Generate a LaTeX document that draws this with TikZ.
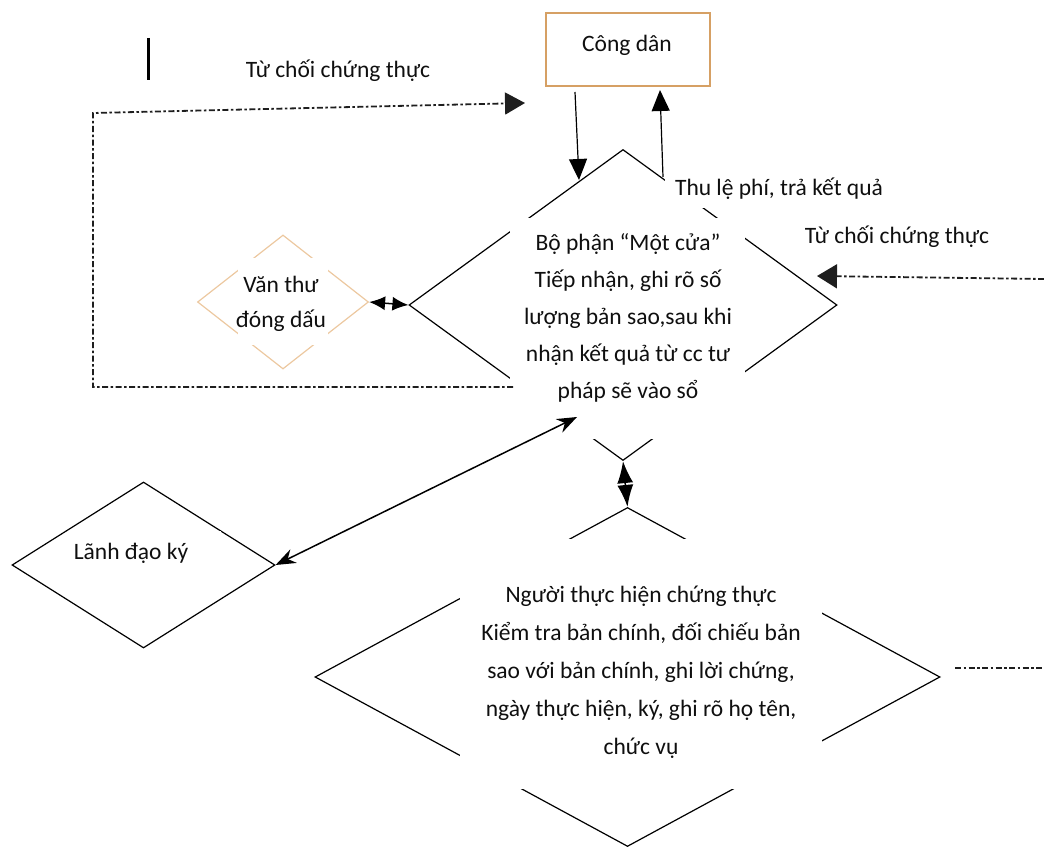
\documentclass[tikz,border=0pt]{standalone}
\usepackage{fontspec}
\setmainfont{Carlito}
\usetikzlibrary{shapes.geometric,arrows.meta}
\definecolor{boxorange}{RGB}{214,160,100}
\definecolor{lightorange}{RGB}{236,200,160}
\definecolor{txtcol}{RGB}{15,15,15}
\definecolor{dashcol}{RGB}{30,30,30}
\tikzset{
  diam/.style={diamond, draw, inner sep=0pt, line width=1.2pt, line join=miter},
  occl/.style={fill=white, draw=none, inner sep=0pt},
  lbl/.style={text=txtcol, align=center, inner sep=0pt, font=\fontsize{23.5pt}{37pt}\selectfont},
  conn/.style={line width=1.2pt},
  dashdot/.style={line width=1.8pt, draw=dashcol, dash pattern=on 6pt off 2.5pt on 2.5pt off 2.5pt},
  bighead/.style={-{Triangle[length=21pt,width=18pt]}},
}
\begin{document}
\begin{tikzpicture}[x=1pt,y=-1pt]
\useasboundingbox (0,0) rectangle (1044,848);

% diamonds
\node[diam, minimum width=428pt, minimum height=311pt] (motcua) at (623,305) {};
\node[diam, draw=lightorange, minimum width=171pt, minimum height=134pt] (vanthu) at (283,302) {};
\node[diam, minimum width=263pt, minimum height=166pt] (lanhdao) at (143.5,565) {};
\node[diam, minimum width=625pt, minimum height=339pt] (nguoith) at (627.5,677) {};

% citizen box
\node[draw=boxorange, fill=white, line width=1.2pt, minimum width=164pt, minimum height=73pt, inner sep=0pt] (congdan) at (628,49.5) {};
\node[lbl, anchor=base] (congdantxt) at (627,52) {Công dân};

% white backgrounds behind the texts
\node[occl, minimum width=235pt, minimum height=221pt] (mcbg) at (627.5,328.5) {};
\node[occl, minimum width=90pt, minimum height=87pt] (vtbg) at (283,301.5) {};
\node[occl, minimum width=146pt, minimum height=47pt] (ldbg) at (148,554.5) {};
\node[occl, minimum width=362pt, minimum height=250pt] (ntbg) at (641,664) {};
\node[occl, minimum width=225pt, minimum height=40pt] (thubg) at (777.5,188) {};

% texts
\node[lbl, font=\fontsize{23.5pt}{37pt}\selectfont] (motcuatxt) at (628,318)
  {Bộ phận “Một cửa”\\Tiếp nhận, ghi rõ số\\lượng bản sao,sau khi\\nhận kết quả từ cc tư\\pháp sẽ vào sổ};
\node[lbl, font=\fontsize{23.5pt}{35pt}\selectfont] (vanthutxt) at (281,303.5) {Văn thư\\đóng dấu};
\node[lbl, anchor=base] (lanhdaotxt) at (131,559) {Lãnh đạo ký};
\node[lbl, font=\fontsize{23.5pt}{38pt}\selectfont] (nguoithtxt) at (641,672.5)
  {Người thực hiện chứng thực\\Kiểm tra bản chính, đối chiếu bản\\sao với bản chính, ghi lời chứng,\\ngày thực hiện, ký, ghi rõ họ tên,\\chức vụ};
\node[lbl, anchor=base] (thutxt) at (779,195) {Thu lệ phí, trả kết quả};
\node[lbl, anchor=base] (tuchoi1) at (338,78) {Từ chối chứng thực};
\node[lbl, anchor=base] (tuchoi2) at (897,243) {Từ chối chứng thực};

% stray bar
\draw[line width=3pt] (148,38) -- (148,80);

% named connector ends
\coordinate (cdDownS) at (575,92);
\coordinate (cdDownE) at (579,180);
\coordinate (cdUpS) at (663,177);
\coordinate (cdUpE) at (660,90);
\coordinate (rejLs) at (513,387);
\coordinate (rejLa) at (93,387);
\coordinate (rejLb) at (93,113);
\coordinate (rejLe) at (525,103);
\coordinate (rejRs) at (1044,279);
\coordinate (rejRe) at (817,276);
\coordinate (mcLd) at (577,417);
\coordinate (ntOut) at (955,668);
\coordinate (ntOutE) at (1044,668);

% connectors
\draw[conn, bighead] (cdDownS) -- (cdDownE);
\draw[conn, bighead] (cdUpS) -- (cdUpE);
\draw[dashdot, -{Triangle[length=20pt,width=22pt]}] (rejLs) -- (rejLa) -- (rejLb) -- (rejLe);
\draw[dashdot, -{Triangle[length=20pt,width=24pt]}] (rejRs) -- (rejRe);
\draw[dashdot] (ntOut) -- (ntOutE);
\draw[line width=1.5pt, {Stealth[length=20pt,width=15pt]}-{Stealth[length=20pt,width=15pt]}] (lanhdao.east) -- (mcLd);
\draw[line width=1.5pt, {Latex[length=16pt,width=14pt]}-{Latex[length=16pt,width=14pt]}] (vanthu.east) -- (motcua.west);
\draw[line width=1.5pt, {Latex[length=22pt,width=16pt]}-{Latex[length=22pt,width=16pt]}] (motcua.south) -- (nguoith.north);
\end{tikzpicture}
\end{document}
